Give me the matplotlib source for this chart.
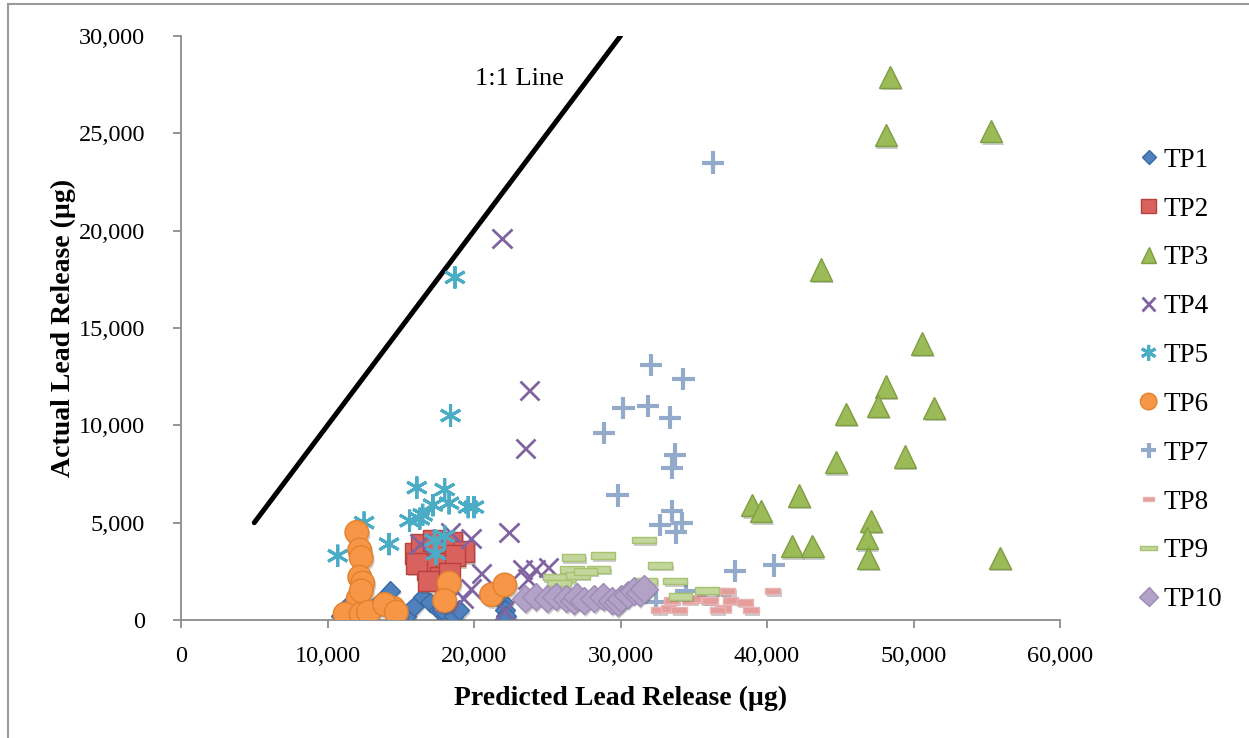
import numpy as np
import matplotlib.pyplot as plt
import matplotlib.patheffects as pe
from matplotlib.patches import Rectangle
from matplotlib.ticker import FuncFormatter, MultipleLocator

plt.rcParams['font.family'] = ['Liberation Serif', 'DejaVu Serif']

# predicted (x) vs actual (y) lead release, ug
tp1_x = [10900, 11300, 12900, 13500, 13900, 14300, 15400, 15900, 16500, 17000, 17600, 17800, 18600, 19000, 22000, 22100, 22200]
tp1_y = [200, 700, 300, 900, 1200, 1500, 200, 700, 1200, 900, 500, 500, 200, 500, 900, 500, 200]

tp2_x = [16000, 16400, 17200, 18500, 19300, 16800, 17300, 18100, 16100, 18700, 17700, 16900, 18300]
tp2_y = [3400, 3900, 4100, 4000, 3500, 2600, 2800, 2900, 2900, 3300, 2200, 2000, 2400]

tp3_x = [48400, 48100, 55300, 43700, 50600, 48100, 47600, 45400, 51400, 44700, 49400, 42200, 39000, 39600, 41700, 43100, 47100, 46800, 46900, 55900]
tp3_y = [27900, 24900, 25100, 18000, 14200, 12000, 11000, 10600, 10900, 8100, 8400, 6400, 5900, 5600, 3800, 3800, 5100, 4200, 3200, 3200]

tp4_x = [21900, 23800, 23500, 22400, 19800, 18400, 16300, 20500, 19800, 19300, 23300, 24200, 25100, 23700, 22100, 18100]
tp4_y = [19600, 11800, 8800, 4500, 4200, 4500, 3900, 2400, 1600, 1100, 2600, 2600, 2700, 2100, 500, 900]

tp5_x = [18700, 18400, 10700, 12500, 14200, 16100, 16300, 15600, 17200, 18000, 18300, 19600, 20000, 17400, 18000, 17300, 16500]
tp5_y = [17600, 10500, 3300, 5000, 3900, 6800, 5200, 5100, 5900, 6700, 6000, 5800, 5800, 3400, 4300, 4100, 5400]

tp6_x = [12000, 12200, 12300, 12200, 12400, 12100, 12300, 11200, 12300, 12800, 14500, 13900, 14700, 18300, 18000, 21200, 22100]
tp6_y = [4500, 3600, 3200, 2200, 1900, 1100, 1500, 300, 300, 400, 600, 800, 400, 1900, 1000, 1300, 1800]

tp7_x = [36300, 32100, 34300, 30200, 31900, 33400, 28900, 33700, 33500, 29800, 33500, 32700, 34200, 33800, 37800, 40500, 32400, 34500]
tp7_y = [23500, 13100, 12400, 10900, 11000, 10400, 9600, 8500, 7800, 6400, 5600, 4900, 5000, 4500, 2500, 2800, 900, 1500]

tp8_x = [32600, 33300, 34000, 33500, 34700, 35300, 36000, 36100, 36900, 37300, 37500, 37000, 38500, 38900, 40400, 36600]
tp8_y = [500, 600, 500, 1000, 1000, 1100, 1000, 1000, 1500, 1500, 1000, 600, 900, 500, 1500, 500]

tp9_x = [26800, 28800, 26700, 28500, 26100, 27100, 25500, 31600, 32700, 31700, 33700, 34100, 35900, 27600, 25800]
tp9_y = [3200, 3300, 2600, 2600, 2100, 2300, 2200, 4100, 2800, 2000, 2000, 1200, 1500, 2500, 1900]

tp10_x = [23500, 24200, 25000, 25600, 26300, 26800, 27000, 27500, 28200, 28800, 29400, 29800, 30000, 30500, 30900, 31300, 31600]
tp10_y = [1100, 1200, 1100, 1200, 1100, 1000, 1200, 1000, 1100, 1200, 1000, 900, 1100, 1300, 1500, 1400, 1600]

line_x = [5000, 30000]
line_y = [5000, 30000]

# flat rectangle markers for TP8 / TP9
bar8 = [(-1, -0.42), (1, -0.42), (1, 0.42), (-1, 0.42), (-1, -0.42)]
bar9 = [(-1, -0.28), (1, -0.28), (1, 0.28), (-1, 0.28), (-1, -0.28)]

series = [
    ("TP1", tp1_x, tp1_y, dict(marker="D", ms=10, mfc="#4F81BD", mec="#3A6AA6", mew=1)),
    ("TP2", tp2_x, tp2_y, dict(marker="s", ms=15, mfc="#D9625F", mec="#B8403D", mew=1)),
    ("TP3", tp3_x, tp3_y, dict(marker="^", ms=16, mfc="#9BBB59", mec="#7E9E40", mew=1)),
    ("TP4", tp4_x, tp4_y, dict(marker="x", ms=14, mfc="none", mec="#8064A2", mew=2)),
    ("TP5", tp5_x, tp5_y, dict(marker=(6, 2, 0), ms=16, mfc="none", mec="#4BACC6", mew=2.2)),
    ("TP6", tp6_x, tp6_y, dict(marker="o", ms=17, mfc="#F79646", mec="#E0822F", mew=1)),
    ("TP7", tp7_x, tp7_y, dict(marker="+", ms=16, mfc="none", mec="#94AACB", mew=3)),
    ("TP8", tp8_x, tp8_y, dict(marker=bar8, ms=11, mfc="#E59D9B", mec="#E8B4B3", mew=1)),
    ("TP9", tp9_x, tp9_y, dict(marker=bar9, ms=17, mfc="#C3D69B", mec="#A7C270", mew=1)),
    ("TP10", tp10_x, tp10_y, dict(marker="D", ms=14, mfc="#B3A2C7", mec="#9E8BB6", mew=1)),
]

fig = plt.figure(figsize=(12.49, 7.38), dpi=100)
ax = fig.add_axes([181 / 1249, 118 / 738, 879 / 1249, 584 / 738])

ax.plot(line_x, line_y, color="black", lw=3.6, solid_capstyle="round", zorder=2)
ax.text(23100, 27800, "1:1 Line", fontsize=19, ha="center", va="center")

shadow = [pe.SimplePatchShadow(offset=(1.2, -1.8), shadow_rgbFace="#555555", alpha=0.3), pe.Normal()]
handles = []
for name, xs, ys, style in series:
    h, = ax.plot(xs, ys, ls="none", label=name, zorder=3, path_effects=shadow, **style)
    handles.append(h)

ax.set_xlim(0, 60000)
ax.set_ylim(0, 30000)
ax.xaxis.set_major_locator(MultipleLocator(10000))
ax.yaxis.set_major_locator(MultipleLocator(5000))
fmt = FuncFormatter(lambda v, p: f"{int(v):,}")
ax.xaxis.set_major_formatter(fmt)
ax.yaxis.set_major_formatter(fmt)

for side in ["top", "right"]:
    ax.spines[side].set_visible(False)
for side in ["left", "bottom"]:
    ax.spines[side].set_color("#8C8C8C")
    ax.spines[side].set_linewidth(1.3)
ax.tick_params(axis="both", direction="out", length=6, width=1.3, color="#8C8C8C", labelsize=17.5)
ax.tick_params(axis="x", pad=13)
ax.tick_params(axis="y", pad=20)

ax.set_xlabel("Predicted Lead Release (µg)", fontsize=20, fontweight="bold", labelpad=13)
ax.set_ylabel("Actual Lead Release (µg)", fontsize=20, fontweight="bold", labelpad=2)

leg = fig.legend(handles=handles, loc="upper left", bbox_to_anchor=(1127 / 1249, 1 - 137 / 738),
                 frameon=False, fontsize=19.5, handlelength=0.8, handletextpad=0.15,
                 labelspacing=0.88, markerscale=0.7, borderaxespad=0)
for lh in leg.legend_handles:
    lh.set_path_effects([pe.Normal()])

# thin outer frame around the chart area
fig.patches.append(Rectangle((8 / 1249, -0.05), 1.2, 1.05 - 4 / 738, transform=fig.transFigure,
                             fill=False, edgecolor="#9A9A9A", lw=1.5))

fig.savefig("out.png", dpi=100)
